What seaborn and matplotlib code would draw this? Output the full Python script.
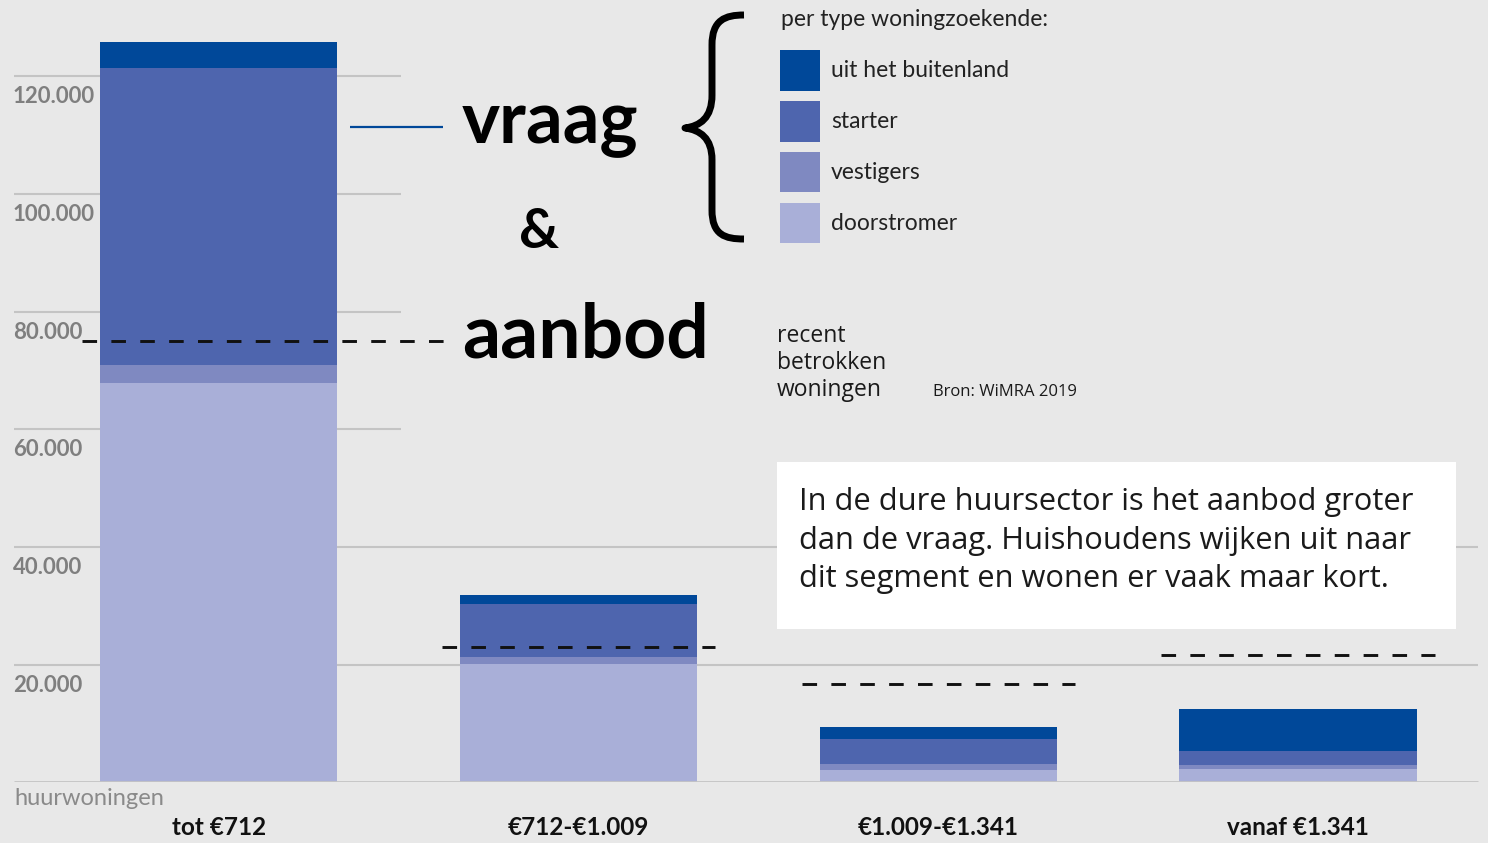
import numpy as np
import pandas as pd
import seaborn as sns
import matplotlib.pyplot as plt
from matplotlib.patches import Patch, PathPatch, Rectangle
from matplotlib.path import Path

# data (huurwoningen per price segment)
categories = ['tot €712', '€712-€1.009', '€1.009-€1.341', 'vanaf €1.341']
doorstromer = [67900, 20100, 2100, 2300]
vestigers = [3100, 1200, 1000, 700]
starter = [50500, 9000, 4300, 2400]
buitenland = [4400, 1500, 2000, 7100]
aanbod = [75000, 23000, 16700, 21700]   # recent betrokken woningen
yticks = [20000, 40000, 60000, 80000, 100000, 120000]
ytick_labels = ['20.000', '40.000', '60.000', '80.000', '100.000', '120.000']

series = ['uit het buitenland', 'starter', 'vestigers', 'doorstromer']
colors = ['#004899', '#4e65ae', '#7f89c1', '#a9afd8']
bg = '#e8e8e8'

sns.set_theme(style='white')
plt.rcParams['font.family'] = ['Lato', 'DejaVu Sans']

# stacked totals, drawn tallest first
df = pd.DataFrame({'categorie': categories, 'doorstromer': doorstromer,
                   'vestigers': vestigers, 'starter': starter, 'buitenland': buitenland})
df['c_door'] = df['doorstromer']
df['c_vest'] = df['c_door'] + df['vestigers']
df['c_start'] = df['c_vest'] + df['starter']
df['c_buit'] = df['c_start'] + df['buitenland']

fig = plt.figure(figsize=(14.88, 8.43), dpi=100, facecolor=bg)
ax = fig.add_axes([0, 0.0718, 1, 0.9282])

for col, c in zip(['c_buit', 'c_start', 'c_vest', 'c_door'], colors):
    sns.barplot(data=df, x='categorie', y=col, color=c, saturation=1,
                width=0.66, errorbar=None, ax=ax, zorder=3,
                linewidth=0, edgecolor='none')

ax.set_xlim(-0.608, 3.528)
ax.set_ylim(0, 133000)
ax.set_axis_off()

# gridlines (upper ones are short)
grid_c = '#c4c4c4'
for y in yticks:
    right = 0.506 if y > 50000 else 3.5
    ax.hlines(y, -0.569, right, colors=grid_c, linewidth=1.5, zorder=1)
ax.hlines(0, -0.569, 3.5, colors=grid_c, linewidth=2, zorder=4)
for y, lab in zip(yticks, ytick_labels):
    ax.text(-0.572, y - 3450, lab, ha='left', va='center', fontsize=16,
            fontweight='bold', color='#7f7f7f', zorder=5)

# aanbod dashed lines
pos = np.arange(len(categories))
right_extra = np.array([0.248, 0, 0, 0])
ax.hlines(aanbod, pos - 0.38, pos + 0.38 + right_extra, colors='#111111',
          linewidth=2.1, linestyles=[(0, (5, 4.9))], zorder=6)

# vraag connector
ax.hlines(111350, 0.364, 0.622, colors='#004899', linewidth=1.6, zorder=6)

# category labels
for p, cat in zip(pos, categories):
    ax.text(p, -7700, cat, ha='center', va='center', fontsize=17.5,
            fontweight='bold', color='#111111', clip_on=False)
ax.text(-0.567, -2700, 'huurwoningen', ha='left', va='center', fontsize=17,
        color='#8a8a8a', clip_on=False)

# overlay in pixel coordinates for annotations
ov = fig.add_axes([0, 0, 1, 1], zorder=10)
ov.set_xlim(0, 1488)
ov.set_ylim(843, 0)
ov.set_axis_off()
ov.patch.set_alpha(0)

ov.text(462, 143, 'vraag', fontsize=52, fontweight='bold', va='baseline', color='#000000')
ov.text(539, 248, '&', fontsize=40, fontweight='bold', va='baseline', ha='center', color='#000000')
ov.text(462, 357, 'aanbod', fontsize=54, fontweight='bold', va='baseline', color='#000000')

# curly brace
verts = [(744, 15), (725, 15), (712, 20), (712, 45),
         (712, 95),
         (712, 118), (700, 126), (685, 128),
         (700, 130), (712, 138), (712, 160),
         (712, 210),
         (712, 235), (725, 239), (744, 239)]
codes = [Path.MOVETO, Path.CURVE4, Path.CURVE4, Path.CURVE4,
         Path.LINETO,
         Path.CURVE4, Path.CURVE4, Path.CURVE4,
         Path.CURVE4, Path.CURVE4, Path.CURVE4,
         Path.LINETO,
         Path.CURVE4, Path.CURVE4, Path.CURVE4]
ov.add_patch(PathPatch(Path(verts, codes), facecolor='none', edgecolor='black',
                       linewidth=5, capstyle='butt', joinstyle='round'))

# legend
ov.text(781, 20, 'per type woningzoekende:', fontsize=16.5, va='center', ha='left', color='#222222')
handles = [Patch(facecolor=c, edgecolor='none', label=s) for s, c in zip(series, colors)]
fig.legend(handles=handles, loc='upper left', bbox_to_anchor=(780 / 1488, 1 - 50 / 843),
           frameon=False, fontsize=16.5, handlelength=1.75, handleheight=2.35,
           handletextpad=0.48, labelspacing=0.45, borderpad=0, borderaxespad=0,
           labelcolor='#222222')

body = ['Open Sans', 'DejaVu Sans']
for yb, line in zip([341.5, 369, 396.5], ['recent', 'betrokken', 'woningen']):
    ov.text(777, yb, line, fontsize=16.5, va='baseline', ha='left', color='#1a1a1a', family=body)
ov.text(933, 396.5, 'Bron: WiMRA 2019', fontsize=12, va='baseline', ha='left',
        color='#1a1a1a', family=body)

# white note box
ov.add_patch(Rectangle((777, 462), 679, 167, facecolor='white', edgecolor='none'))
note = ['In de dure huursector is het aanbod groter',
        'dan de vraag. Huishoudens wijken uit naar',
        'dit segment en wonen er vaak maar kort.']
for yb, line in zip([510, 548.5, 587], note):
    ov.text(799, yb, line, fontsize=22.2, va='baseline', ha='left', color='#1a1a1a', family=body)

fig.savefig('out.png', dpi=100, facecolor=bg)
